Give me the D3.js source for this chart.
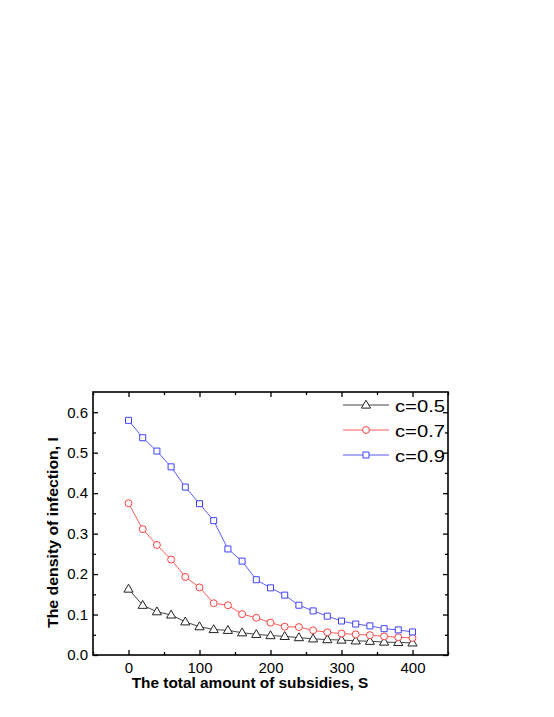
<!DOCTYPE html>
<html>
<head>
<meta charset="utf-8">
<script src="https://cdn.jsdelivr.net/npm/d3@7"></script>
<style>
  html, body { margin: 0; padding: 0; background: #fff; }
  svg { display: block; }
  text { font-family: "Liberation Sans", Arial, sans-serif; fill: #000; }
</style>
</head>
<body>
<svg id="chart" width="554" height="717"></svg>
<script>
// ---- data ----
const subsidies = [0, 20, 40, 60, 80, 100, 120, 140, 160, 180, 200, 220, 240, 260, 280, 300, 320, 340, 360, 380, 400];
const c05 = [0.163, 0.123, 0.107, 0.099, 0.082, 0.070, 0.063, 0.061, 0.055, 0.051, 0.048, 0.046, 0.043, 0.040, 0.038, 0.037, 0.035, 0.034, 0.032, 0.031, 0.030];
const c07 = [0.375, 0.311, 0.272, 0.236, 0.193, 0.167, 0.128, 0.123, 0.101, 0.092, 0.080, 0.070, 0.069, 0.061, 0.056, 0.053, 0.051, 0.049, 0.046, 0.044, 0.042];
const c09 = [0.580, 0.537, 0.504, 0.465, 0.415, 0.374, 0.332, 0.262, 0.232, 0.186, 0.166, 0.148, 0.123, 0.109, 0.096, 0.084, 0.0765, 0.072, 0.065, 0.062, 0.057];
const seriesNames = ["c=0.5", "c=0.7", "c=0.9"];
const xTickValues = [0, 100, 200, 300, 400];
const yTickValues = [0.0, 0.1, 0.2, 0.3, 0.4, 0.5, 0.6];
const xTitle = "The total amount of subsidies, S";
const yTitle = "The density of infection, I";

// ---- layout ----
const svg = d3.select("#chart");
const L = 93, R = 448, T = 392, B = 655;
const x = d3.scaleLinear().domain([-50, 450]).range([L, R]);
const y = d3.scaleLinear().domain([0, 0.65]).range([B, T]);

const styles = [
  { data: c05, line: "#444444", stroke: "#222222", shape: "triangle" },
  { data: c07, line: "#ff5a5a", stroke: "#ff4040", shape: "circle" },
  { data: c09, line: "#5a5aff", stroke: "#4040ff", shape: "square" }
];

function markerPath(shape) {
  if (shape === "triangle") return "M0,-4.8 L4.6,3.1 L-4.6,3.1 Z";
  if (shape === "square") return "M-3,-3 H3 V3 H-3 Z";
  return d3.symbol().type(d3.symbolCircle).size(38)();
}

// minor ticks
const xMinor = d3.range(-50, 451, 50).filter(v => v % 100 !== 0 || v < 0 || v > 400);
const yMinor = d3.range(0.05, 0.65, 0.1);

function axisStyle(g) {
  g.select(".domain").remove();
  g.selectAll("line").attr("stroke", "#000").attr("stroke-width", 1.3);
  g.selectAll("text").style("font-size", "15px").attr("fill", "#000");
}

// bottom
svg.append("g").attr("transform", `translate(0,${B})`)
  .call(d3.axisBottom(x).tickValues(xTickValues).tickFormat(d3.format("d")).tickSize(-5).tickPadding(7))
  .call(axisStyle);
svg.append("g").attr("transform", `translate(0,${B})`)
  .call(d3.axisBottom(x).tickValues(xMinor).tickFormat("").tickSize(-3))
  .call(axisStyle);
// top
svg.append("g").attr("transform", `translate(0,${T})`)
  .call(d3.axisTop(x).tickValues(xTickValues).tickFormat("").tickSize(-5))
  .call(axisStyle);
svg.append("g").attr("transform", `translate(0,${T})`)
  .call(d3.axisTop(x).tickValues(xMinor).tickFormat("").tickSize(-3))
  .call(axisStyle);
// left
svg.append("g").attr("transform", `translate(${L},0)`)
  .call(d3.axisLeft(y).tickValues(yTickValues).tickFormat(d3.format(".1f")).tickSize(-5).tickPadding(5))
  .call(axisStyle);
svg.append("g").attr("transform", `translate(${L},0)`)
  .call(d3.axisLeft(y).tickValues(yMinor).tickFormat("").tickSize(-3))
  .call(axisStyle);
// right
svg.append("g").attr("transform", `translate(${R},0)`)
  .call(d3.axisRight(y).tickValues(yTickValues).tickFormat("").tickSize(-5))
  .call(axisStyle);
svg.append("g").attr("transform", `translate(${R},0)`)
  .call(d3.axisRight(y).tickValues(yMinor).tickFormat("").tickSize(-3))
  .call(axisStyle);

// frame
svg.append("rect").attr("x", L).attr("y", T).attr("width", R - L).attr("height", B - T)
  .attr("fill", "none").attr("stroke", "#000").attr("stroke-width", 1.6);

// series
const line = d3.line().x((d, i) => x(subsidies[i])).y(d => y(d));
styles.forEach(s => {
  svg.append("path").attr("d", line(s.data)).attr("fill", "none")
    .attr("stroke", s.line).attr("stroke-width", 1);
  svg.append("g").selectAll("path").data(s.data).join("path")
    .attr("d", markerPath(s.shape))
    .attr("transform", (d, i) => `translate(${x(subsidies[i])},${y(d)})`)
    .attr("fill", "#fff").attr("stroke", s.stroke).attr("stroke-width", 1);
});

// legend
const legX1 = 343, legX2 = 389, legY0 = 405, legDy = 25;
styles.forEach((s, i) => {
  const yy = legY0 + i * legDy;
  svg.append("line").attr("x1", legX1).attr("x2", legX2).attr("y1", yy).attr("y2", yy)
    .attr("stroke", s.line).attr("stroke-width", 1);
  svg.append("path").attr("d", markerPath(s.shape))
    .attr("transform", `translate(${(legX1 + legX2) / 2},${yy})`)
    .attr("fill", "#fff").attr("stroke", s.stroke).attr("stroke-width", 1);
  svg.append("text").attr("x", 395).attr("y", yy + 7.3)
    .attr("textLength", 50).attr("lengthAdjust", "spacingAndGlyphs")
    .style("font-size", "17px").text(seriesNames[i]);
});

// titles
svg.append("text").attr("x", 131.7).attr("y", 688)
  .attr("textLength", 236.6).attr("lengthAdjust", "spacingAndGlyphs")
  .style("font-size", "14.5px").style("font-weight", "bold").text(xTitle);
svg.append("text").attr("transform", "translate(58,628) rotate(-90)")
  .attr("textLength", 191).attr("lengthAdjust", "spacingAndGlyphs")
  .style("font-size", "14.5px").style("font-weight", "bold").text(yTitle);
</script>
</body>
</html>
